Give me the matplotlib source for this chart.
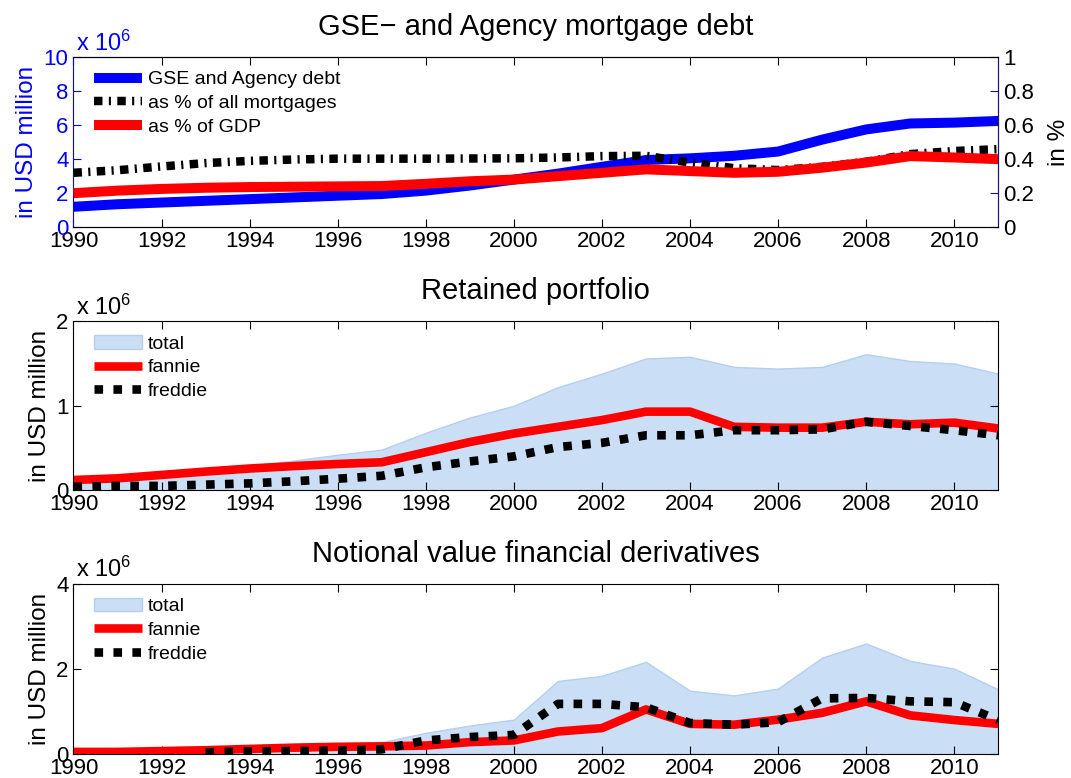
import matplotlib
matplotlib.use("Agg")
import matplotlib.pyplot as plt
import numpy as np

plt.rcParams['font.family'] = ['Liberation Sans', 'DejaVu Sans']
plt.rcParams['mathtext.fontset'] = 'custom'
plt.rcParams['mathtext.rm'] = 'Liberation Sans'
plt.rcParams['mathtext.it'] = 'Liberation Sans:italic'

years = np.arange(1990, 2012)

# panel 1: GSE and agency debt (x 1e6 USD million) and shares (right axis)
gse_debt = [1.2, 1.35, 1.45, 1.55, 1.65, 1.75, 1.85, 1.95, 2.15, 2.45, 2.8, 3.15,
            3.55, 3.95, 4.05, 4.2, 4.45, 5.15, 5.75, 6.1, 6.15, 6.25]
pct_mortgages = [0.32, 0.335, 0.357, 0.377, 0.39, 0.398, 0.403, 0.403, 0.403, 0.404, 0.405, 0.41,
                 0.418, 0.42, 0.38, 0.347, 0.336, 0.355, 0.385, 0.43, 0.448, 0.459]
pct_gdp = [0.2, 0.215, 0.225, 0.232, 0.236, 0.238, 0.24, 0.242, 0.255, 0.27, 0.28, 0.30,
           0.32, 0.34, 0.33, 0.32, 0.326, 0.35, 0.38, 0.418, 0.41, 0.40]

# panel 2: retained portfolio (x 1e6)
ret_total = [0.13, 0.15, 0.2, 0.24, 0.29, 0.35, 0.42, 0.48, 0.68, 0.86, 1.0, 1.22,
             1.38, 1.56, 1.58, 1.46, 1.44, 1.46, 1.61, 1.53, 1.5, 1.38]
ret_fannie = [0.12, 0.14, 0.18, 0.22, 0.256, 0.285, 0.31, 0.33, 0.45, 0.57, 0.67, 0.75,
              0.83, 0.93, 0.93, 0.75, 0.74, 0.74, 0.81, 0.78, 0.8, 0.73]
ret_freddie = [0.04, 0.05, 0.05, 0.065, 0.08, 0.105, 0.135, 0.17, 0.27, 0.34, 0.4, 0.51,
               0.56, 0.65, 0.65, 0.71, 0.71, 0.72, 0.81, 0.76, 0.71, 0.65]

# panel 3: notional value financial derivatives (x 1e6)
der_total = [0.05, 0.05, 0.07, 0.1, 0.15, 0.2, 0.25, 0.28, 0.5, 0.67, 0.81, 1.72,
             1.84, 2.17, 1.49, 1.38, 1.54, 2.27, 2.6, 2.19, 2.01, 1.52]
der_fannie = [0.05, 0.05, 0.07, 0.09, 0.12, 0.15, 0.17, 0.18, 0.2, 0.28, 0.32, 0.53,
              0.61, 1.05, 0.71, 0.69, 0.81, 0.97, 1.24, 0.91, 0.8, 0.71]
der_freddie = [np.nan, np.nan, np.nan, 0.04, 0.06, 0.07, 0.08, 0.11, 0.32, 0.4, 0.45, 1.18,
               1.18, 1.1, 0.73, 0.69, 0.75, 1.31, 1.32, 1.24, 1.22, 0.8]

xticks = np.arange(1990, 2011, 2)
TICK = 16
LAB = 17.5
TITLE = 21
LEG = 14
BLUE = '#0000ff'
RED = '#ff0000'
FILL = '#cadff6'

fig = plt.figure(figsize=(10.71, 7.78), dpi=100)
left, width = 0.0686, 0.8635

legend_kw = dict(loc='upper left', frameon=False, fontsize=LEG, handlelength=2.5,
                 handletextpad=0.3, labelspacing=0.32, borderaxespad=0.3,
                 bbox_to_anchor=(0.007, 1.0))


def style_x(ax):
    ax.set_xlim(1990, 2011)
    ax.set_xticks(xticks)
    ax.tick_params(axis='x', direction='in', top=True, length=6, labelsize=TICK, pad=3)


# ---- top panel ----
ax1 = fig.add_axes([left, 0.708, width, 0.2185])
ax1.plot(years, gse_debt, color=BLUE, lw=7.2, solid_capstyle='butt', label='GSE and Agency debt')
ax1.set_ylim(0, 10)
ax1.set_yticks(np.arange(0, 11, 2))
style_x(ax1)
ax1.tick_params(axis='y', direction='in', length=6, labelsize=TICK, colors=BLUE, right=False)
ax1.spines['left'].set_color(BLUE)
ax1.set_ylabel('in USD million', fontsize=LAB, color=BLUE, labelpad=4)
ax1.text(0.003, 1.01, 'x 10$^{6}$', transform=ax1.transAxes, fontsize=TICK + 1, color=BLUE, va='bottom')
ax1.set_title('GSE\u2212 and Agency mortgage debt', fontsize=TITLE, pad=16)

ax2 = ax1.twinx()
l2, = ax2.plot(years, pct_mortgages, color='black', lw=6.1, dashes=(1, 0.75, 0.25, 0.75),
               dash_capstyle='butt', label='as % of all mortgages')
l3, = ax2.plot(years, pct_gdp, color=RED, lw=7.2, solid_capstyle='butt', label='as % of GDP')
ax2.set_ylim(0, 1)
ax2.set_yticks(np.arange(0, 1.01, 0.2))
ax2.set_yticklabels(['0', '0.2', '0.4', '0.6', '0.8', '1'])
ax2.tick_params(axis='y', direction='in', length=6, labelsize=TICK, colors='#1a1a6e', labelcolor='black')
ax2.spines['right'].set_color('#1a1a6e')
ax2.spines['left'].set_visible(False)
ax2.set_ylabel('in %', fontsize=LAB, labelpad=10)
h1, lab1 = ax1.get_legend_handles_labels()
ax2.legend(h1 + [l2, l3], lab1 + [l2.get_label(), l3.get_label()], **legend_kw)


def panel(ax, total, fannie, freddie, ymax, yticks, title):
    ax.fill_between(years, 0, total, facecolor=FILL, edgecolor='#b5cff0', lw=1, label='total')
    ax.plot(years, fannie, color=RED, lw=6.2, solid_capstyle='butt', label='fannie')
    ax.plot(years, freddie, color='black', lw=6.2, dashes=(1, 1.2), dash_capstyle='butt',
            label='freddie')
    ax.set_ylim(0, ymax)
    ax.set_yticks(yticks)
    style_x(ax)
    ax.tick_params(axis='y', direction='in', right=True, length=6, labelsize=TICK)
    ax.set_ylabel('in USD million', fontsize=LAB, labelpad=4)
    ax.text(0.003, 1.01, 'x 10$^{6}$', transform=ax.transAxes, fontsize=TICK + 1, va='bottom')
    ax.set_title(title, fontsize=TITLE, pad=16)
    ax.legend(**legend_kw)


ax3 = fig.add_axes([left, 0.370, width, 0.217])
panel(ax3, ret_total, ret_fannie, ret_freddie, 2, [0, 1, 2], 'Retained portfolio')

ax4 = fig.add_axes([left, 0.0308, width, 0.2185])
panel(ax4, der_total, der_fannie, der_freddie, 4, [0, 2, 4], 'Notional value financial derivatives')

fig.savefig('out.png', dpi=100)
